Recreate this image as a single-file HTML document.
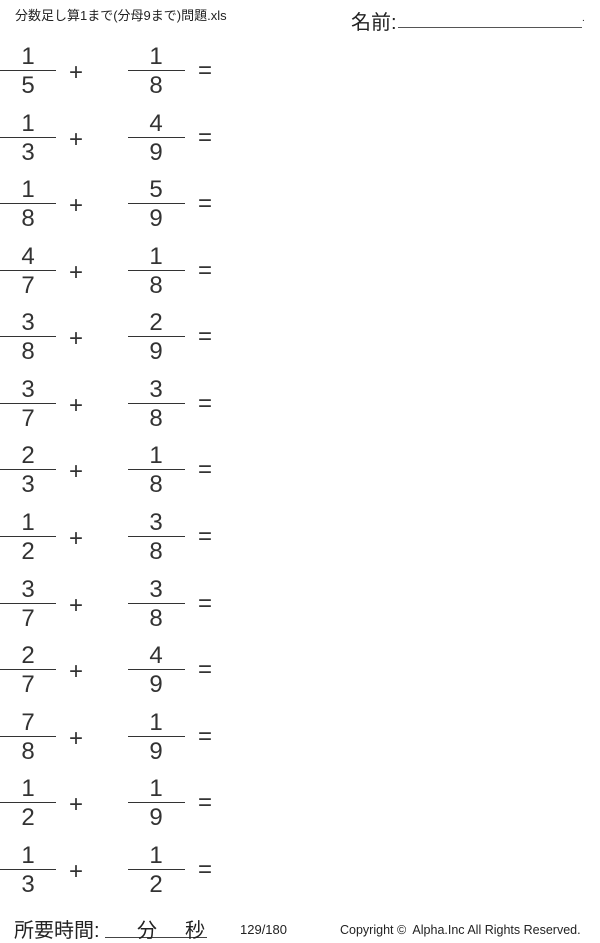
<!DOCTYPE html>
<html><head><meta charset="utf-8"><style>
body{margin:0;width:600px;height:943px;background:#fff;position:relative;overflow:hidden;font-family:"Liberation Sans","Noto Sans CJK JP",sans-serif;color:#222}
.a{position:absolute}
.n{position:absolute;width:56px;text-align:center;font-size:24px;line-height:26px;color:#333}
.l{position:absolute;height:1px;background:#333}
.op{position:absolute;font-size:24px;line-height:26px;width:20px;text-align:center;color:#333}
</style></head><body>
<div class="a" style="left:15px;top:5px;font-size:13px">分数足し算1まで(分母9まで)問題.xls</div>
<div class="a" style="left:351px;top:6px;font-size:20px">名前:</div>
<div class="l" style="left:398px;top:27px;width:184px;background:#555"></div>
<div class="a" style="left:582px;top:13px;font-size:10px">.</div>
<div id="rows"></div>
<script>
var d=[[1,5,1,8],[1,3,4,9],[1,8,5,9],[4,7,1,8],[3,8,2,9],[3,7,3,8],[2,3,1,8],[1,2,3,8],[3,7,3,8],[2,7,4,9],[7,8,1,9],[1,2,1,9],[1,3,1,2]];
var h='';
d.forEach(function(r,i){var y=70+i*66.58;
h+='<div class="n" style="left:0;top:'+(y-26)+'px">'+r[0]+'</div>';
h+='<div class="l" style="left:0;top:'+y+'px;width:56px"></div>';
h+='<div class="n" style="left:0;top:'+(y+3)+'px">'+r[1]+'</div>';
h+='<div class="op" style="left:66px;top:'+(y-10)+'px">+</div>';
h+='<div class="n" style="left:128px;top:'+(y-26)+'px">'+r[2]+'</div>';
h+='<div class="l" style="left:128px;top:'+y+'px;width:57px"></div>';
h+='<div class="n" style="left:128px;top:'+(y+3)+'px">'+r[3]+'</div>';
h+='<div class="op" style="left:195px;top:'+(y-12)+'px">=</div>';});
document.getElementById('rows').innerHTML=h;
</script>
<div class="a" style="left:14px;top:914px;font-size:20px">所要時間:</div>
<div class="l" style="left:105px;top:937px;width:102px;background:#444"></div>
<div class="a" style="left:137px;top:914px;font-size:20px">分</div>
<div class="a" style="left:185px;top:914px;font-size:20px">秒</div>
<div class="a" style="left:240px;top:922px;font-size:13px">129/180</div>
<div class="a" style="left:340px;top:923px;font-size:12.5px">Copyright ©&nbsp; Alpha.Inc All Rights Reserved.</div>
</body></html>
